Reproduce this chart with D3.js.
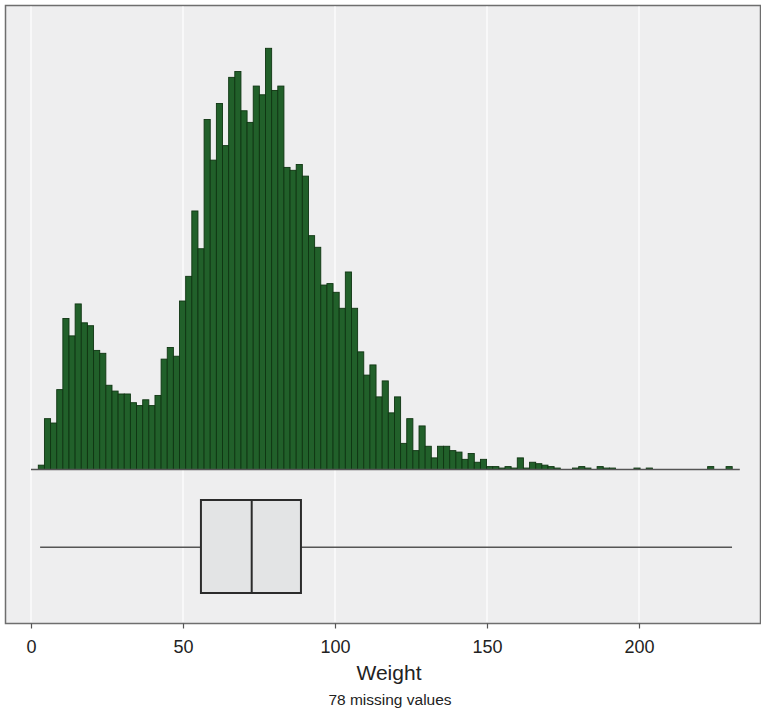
<!DOCTYPE html>
<html>
<head>
<meta charset="utf-8">
<script src="https://cdn.jsdelivr.net/npm/d3@7"></script>
<style>
  body { margin: 0; background: #fff; }
  svg { display: block; font-family: "Liberation Sans", Arial, sans-serif; }
</style>
</head>
<body>
<div id="chart"></div>
<script>
// histogram: bins of equal width starting at binStart
const binStart = 2.4;
const binWidth = 2.02;
const counts = [
  3, 35, 32, 55, 104, 92, 114, 101, 99, 82,
  80, 58, 54, 52, 52, 46, 44, 48, 44, 51,
  76, 84, 78, 116, 133, 178, 152, 241, 213, 252,
  223, 270, 274, 247, 239, 264, 258, 290, 261, 264,
  208, 206, 210, 202, 161, 153, 127, 128, 122, 111,
  136, 111, 81, 65, 72, 50, 61, 39, 50, 18,
  35, 13, 30, 16, 8, 16, 16, 13, 12, 7,
  11, 5, 7, 2, 2, 1, 2, 1, 8, 1,
  5, 4, 3, 2, 1, 0, 0, 1, 2, 1,
  0, 2, 1, 1, 0, 0, 0, 1, 0, 1,
  0, 0, 0, 0, 0, 0, 0, 0, 0, 2,
  0, 0, 2
];

// box plot summary (whiskers to min / max)
const boxStats = { min: 3.0, q1: 55.9, median: 72.6, q3: 88.8, max: 230.6 };

const xTicks = [0, 50, 100, 150, 200];
const xLabel = "Weight";
const note = "78 missing values";

const width = 761;
const height = 715;
const panel = { left: 5, top: 5, right: 760, bottom: 623 };

const svg = d3.select("#chart")
  .append("svg")
  .attr("width", width)
  .attr("height", height);

const x = d3.scaleLinear().domain([0, 200]).range([31, 639]);
const y = d3.scaleLinear().domain([0, 300]).range([469.5, 469.5 - 300 * 1.4524]);

// panel background
svg.append("rect")
  .attr("x", panel.left + 0.5)
  .attr("y", panel.top + 0.5)
  .attr("width", panel.right - panel.left)
  .attr("height", panel.bottom - panel.top)
  .attr("fill", "#eeeeef")
  .attr("stroke", "#6e6e6e")
  .attr("stroke-width", 1.5);

// vertical grid lines
svg.append("g")
  .selectAll("line")
  .data(xTicks)
  .join("line")
  .attr("x1", (d) => x(d))
  .attr("x2", (d) => x(d))
  .attr("y1", panel.top + 1.5)
  .attr("y2", panel.bottom - 1)
  .attr("stroke", "#ffffff")
  .attr("stroke-width", 1.2);

// histogram bars
const bins = counts.map((c, i) => ({
  x0: binStart + i * binWidth,
  x1: binStart + (i + 1) * binWidth,
  count: c
}));

svg.append("g")
  .selectAll("rect")
  .data(bins.filter((b) => b.count > 0))
  .join("rect")
  .attr("x", (d) => x(d.x0))
  .attr("y", (d) => y(d.count))
  .attr("width", (d) => x(d.x1) - x(d.x0))
  .attr("height", (d) => y(0) - y(d.count))
  .attr("fill", "#21602a")
  .attr("stroke", "#0f3512")
  .attr("stroke-width", 0.9);

// histogram base line
svg.append("line")
  .attr("x1", x(0))
  .attr("x2", x(binStart + counts.length * binWidth + 2.5))
  .attr("y1", y(0))
  .attr("y2", y(0))
  .attr("stroke", "#555")
  .attr("stroke-width", 1.5);

// box plot
const boxTop = 500;
const boxBottom = 593;
const boxMid = (boxTop + boxBottom) / 2 + 0.8;

svg.append("line")
  .attr("x1", x(boxStats.min))
  .attr("x2", x(boxStats.max))
  .attr("y1", boxMid)
  .attr("y2", boxMid)
  .attr("stroke", "#555")
  .attr("stroke-width", 1.5);

svg.append("rect")
  .attr("x", x(boxStats.q1))
  .attr("y", boxTop)
  .attr("width", x(boxStats.q3) - x(boxStats.q1))
  .attr("height", boxBottom - boxTop)
  .attr("fill", "#e3e4e5")
  .attr("stroke", "#2b2b2b")
  .attr("stroke-width", 2);

svg.append("line")
  .attr("x1", x(boxStats.median))
  .attr("x2", x(boxStats.median))
  .attr("y1", boxTop)
  .attr("y2", boxBottom)
  .attr("stroke", "#2b2b2b")
  .attr("stroke-width", 2);

// x axis
const xAxis = d3.axisBottom(x)
  .tickValues(xTicks)
  .tickSize(5)
  .tickPadding(12)
  .tickFormat(d3.format("d"));

const axisG = svg.append("g")
  .attr("transform", `translate(0,${panel.bottom + 0.5})`)
  .call(xAxis);

axisG.select(".domain").remove();
axisG.selectAll(".tick line").attr("stroke", "#555").attr("stroke-width", 1.2);
axisG.selectAll(".tick text")
  .attr("fill", "#222")
  .style("font-size", "18px")
  .style("font-family", "Liberation Sans, Arial, sans-serif");

svg.append("text")
  .attr("x", 389)
  .attr("y", 680)
  .attr("text-anchor", "middle")
  .attr("fill", "#222")
  .style("font-size", "21px")
  .text(xLabel);

svg.append("text")
  .attr("x", 390)
  .attr("y", 705)
  .attr("text-anchor", "middle")
  .attr("fill", "#222")
  .style("font-size", "15.5px")
  .text(note);
</script>
</body>
</html>
